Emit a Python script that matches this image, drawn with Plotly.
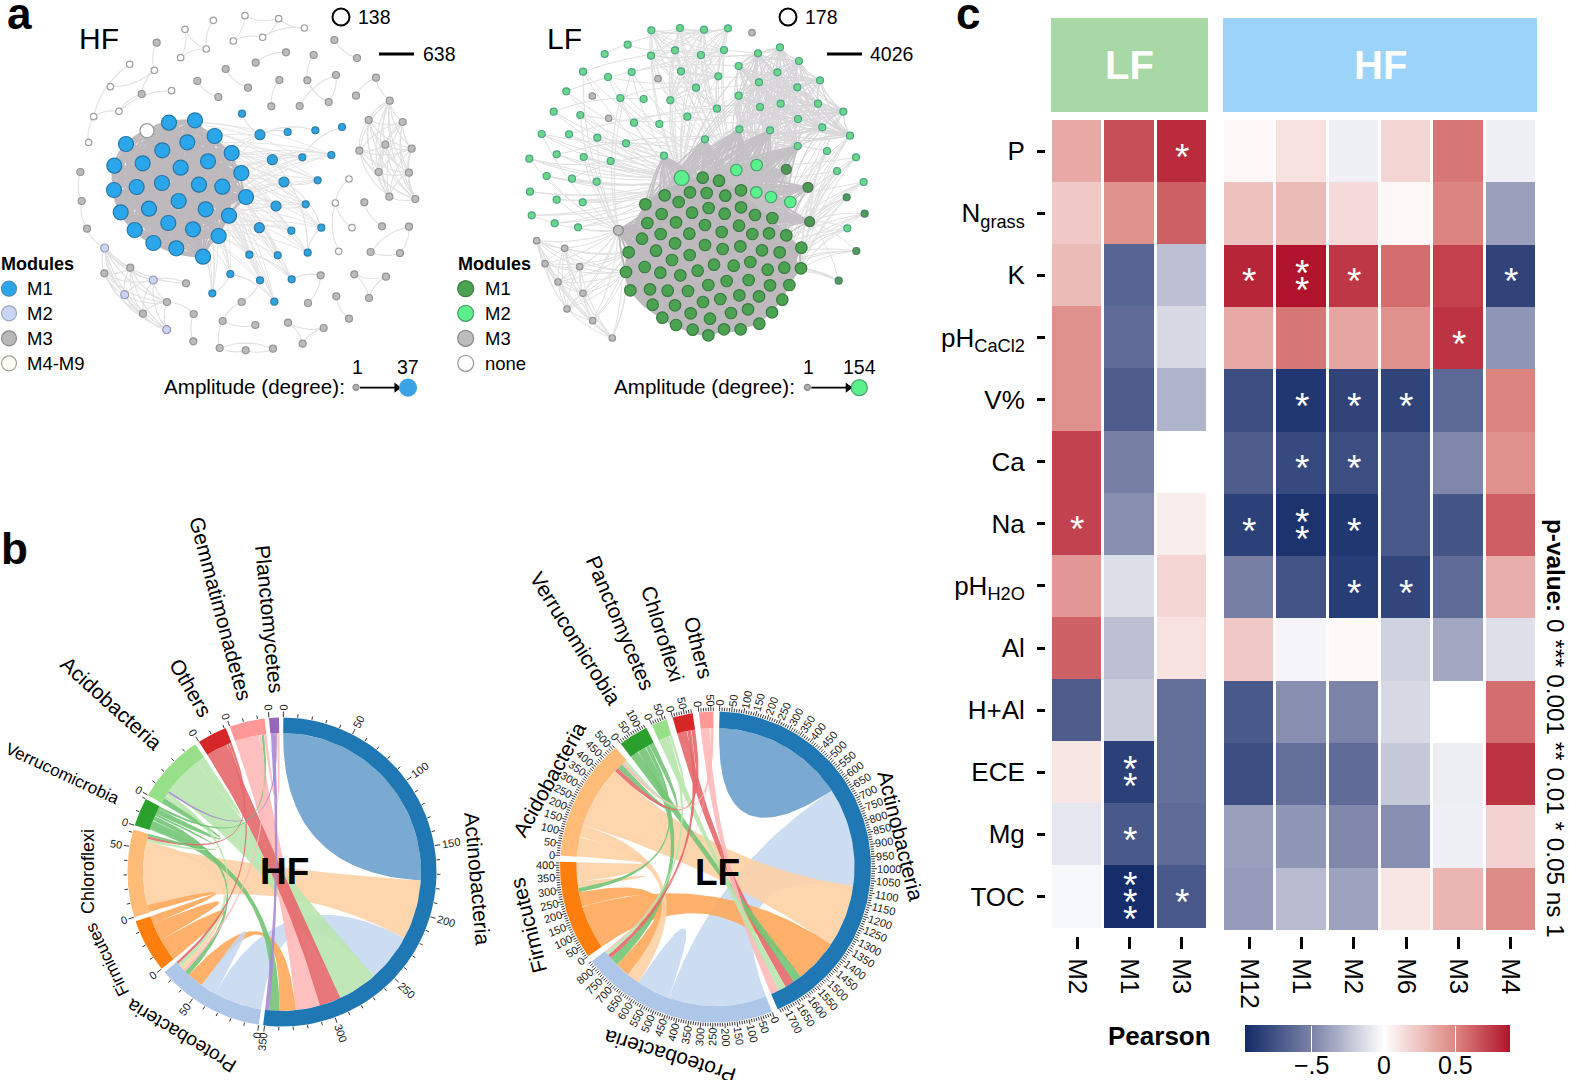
import numpy as np
import plotly.graph_objects as go

W, H = 1569, 1080
FONT = "Liberation Sans"

# ---------------- panel c data ----------------
rows = ["P", "N<sub>grass</sub>", "K", "pH<sub>CaCl2</sub>", "V%", "Ca", "Na", "pH<sub>H2O</sub>",
        "Al", "H+Al", "ECE", "Mg", "TOC"]
lf_cols = ["M2", "M1", "M3"]
hf_cols = ["M12", "M1", "M2", "M6", "M3", "M4"]
lf_r = [[.35, .68, .80], [.22, .45, .62], [.28, -.66, -.25], [.45, -.62, -.15], [.45, -.70, -.30],
        [.72, -.52, 0], [.72, -.45, .07], [.42, -.13, .17], [.62, -.25, .12], [-.70, -.20, -.60],
        [.10, -.85, -.60], [-.10, -.72, -.62], [-.03, -.95, -.72]]
hf_r = [[.03, .12, -.06, .17, .55, -.06], [.25, .28, .15, .03, .50, -.38], [.82, .88, .76, .58, .73, -.83],
        [.35, .55, .37, .45, .77, -.42], [-.78, -.90, -.83, -.83, -.63, .50], [-.70, -.80, -.78, -.72, -.48, .45],
        [-.85, -.92, -.90, -.72, -.75, .63], [-.52, -.75, -.87, -.82, -.62, .33], [.22, -.04, .02, -.18, -.35, -.12],
        [-.72, -.45, -.50, -.15, 0, .58], [-.78, -.60, -.62, -.22, -.07, .77], [-.38, -.42, -.48, -.45, -.06, .18],
        [-.40, -.27, -.37, .10, .30, .47]]
lf_stars = [[0, 0, 1], [0, 0, 0], [0, 0, 0], [0, 0, 0], [0, 0, 0], [0, 0, 0], [1, 0, 0], [0, 0, 0], [0, 0, 0],
            [0, 0, 0], [0, 2, 0], [0, 1, 0], [0, 3, 1]]
hf_stars = [[0] * 6, [0] * 6, [1, 2, 1, 0, 0, 1], [0, 0, 0, 0, 1, 0], [0, 1, 1, 1, 0, 0], [0, 1, 1, 0, 0, 0],
            [1, 2, 1, 0, 0, 0], [0, 0, 1, 1, 0, 0], [0] * 6, [0] * 6, [0] * 6, [0] * 6, [0] * 6]

# ---------------- panel a data (layout units of each network) ----------------
hf_m1_big = [(507,368),(585,361),(644,408),(378,432),(562,427),(487,451),(695,459),(343,497),(428,490),(542,503),
             (624,484),(724,519),(342,570),(410,561),(486,549),(597,554),(667,560),(738,591),(536,603),(447,626),
             (617,628),(362,637),(687,647),(505,669),(404,690),(579,688),(656,708),(460,729),(529,745),(609,770)]
hf_m1_mid = [(780,404),(817,479),(852,546),(828,618),(778,683)]
hf_m1_small = [(726,341),(863,396),(946,391),(1026,381),(907,472),(994,465),(953,541),(917,613),(874,692),(964,683),
               (748,764),(833,766),(923,758),(691,822),(780,841),(875,838),(637,880),(823,905)]
hf_m3 = [(470,128),(1003,120),(858,157),(941,165),(767,188),(1071,174),(677,207),(592,243),(744,263),(838,240),
         (922,241),(1008,225),(1128,233),(655,291),(814,319),(899,318),(986,306),(1068,287),(1169,302),(1106,360),
         (1208,366),(1078,452),(1156,434),(1235,446),(1136,516),(1227,518),(1168,590),(1246,597),(1093,607),(1146,679),
         (1227,680),(1112,756),(1200,759),(962,826),(1063,823),(1158,830),(1009,889),(1107,894),(924,909),(725,906),
         (1047,956),(971,984),(864,968),(908,1031),(766,975),(668,963),(581,942),(580,1024),(659,1044),(737,1051),
         (819,1046),(501,906),(429,941),(391,803),(313,820),(241,516),(245,603),(261,686),(425,282),(558,850)]
hf_m2 = [(314,744),(460,840),(374,884),(500,989)]
hf_other = [(640,61),(735,47),(836,56),(913,84),(555,88),(788,112),(700,123),(619,147),(542,173),(389,193),(463,211),
            (331,260),(515,272),(357,334),(281,350),(266,427),(1047,537),(1006,609),(1056,683),(1016,754)]
hf_other_big = [(441,392)]
hf_paths = [[(470,128),(463,211),(425,282),(357,334),(281,350),(266,427)], [(389,193),(281,350)], [(331,260),(463,211)],
            [(515,272),(357,334)], [(640,61),(619,147),(542,173),(555,88),(619,147)], [(735,47),(836,56),(913,84),(788,112),(700,123),(735,47)],
            [(788,112),(836,56)], [(858,157),(767,188)], [(1003,120),(1071,174)], [(677,207),(744,263)], [(592,243),(655,291)],
            [(838,240),(814,319)], [(941,165),(922,241),(986,306),(1008,225),(899,318)], [(1128,233),(1068,287)], [(1128,233),(1169,302)],
            [(1093,607),(1146,679)], [(1227,680),(1112,756),(1200,759),(1227,680)], [(1063,823),(1158,830),(1107,894),(1063,823)],
            [(962,826),(875,838)], [(1009,889),(1047,956)], [(864,968),(971,984),(908,1031),(864,968)], [(668,963),(766,975)],
            [(725,906),(668,963),(659,1044),(737,1051),(819,1046),(659,1044)], [(581,942),(580,1024)], [(581,942),(501,906)],
            [(241,516),(245,603),(261,686),(314,744),(558,850)], [(1047,537),(1006,609),(1056,683)], [(1006,609),(1016,754)], [(558,850),(460,840)],
            [(924,909),(962,826)], [(725,906),(780,841)], [(637,880),(691,822)], [(863,396),(780,404)], [(946,391),(780,404)], [(1026,381),(907,472),(817,479)],
            [(994,465),(817,479)], [(852,546),(953,541)], [(828,618),(917,613)], [(964,683),(852,546)], [(874,692),(778,683)],
            [(923,758),(817,479)], [(833,766),(778,683)], [(875,838),(748,764)], [(823,905),(691,822)], [(726,341),(780,404)], [(964,683),(923,758)]]
hf_dense_right = [(1169,302),(1106,360),(1208,366),(1078,452),(1156,434),(1235,446),(1136,516),(1227,518),(1168,590),(1246,597)]
hf_dense_left = [(314,744),(313,820),(391,803),(460,840),(374,884),(501,906),(429,941),(500,989)]

lf_m1 = [(758,533),(807,542),(644,586),(720,577),(770,579),(826,587),(873,571),(586,613),(686,606),(635,642),(726,638),
         (776,624),(824,641),(873,622),(915,645),(967,654),(592,669),(678,667),(765,675),(867,677),(815,696),(632,702),
         (718,701),(907,702),(957,700),(1009,706),(576,716),(675,730),(765,735),(818,747),(871,739),(936,751),(989,757),
         (1054,743),(536,757),(618,752),(719,765),(666,780),(792,794),(851,797),(901,786),(953,809),(1003,803),(1053,805),
         (584,801),(631,818),(691,826),(743,812),(528,816),(830,843),(896,840),(775,855),(960,856),(1018,855),(541,871),
         (600,868),(653,872),(714,873),(868,886),(927,889),(811,897),(997,899),(608,914),(675,916),(759,906),(894,928),
         (843,939),(966,937),(722,940),(637,953),(780,956),(678,975),(928,971),(728,989),(822,988),(872,988),(775,1006)]
lf_m1_mid = [(1009,508),(1074,562),(1079,665)]
lf_m1_small = [(1190,592),(1244,641),(1219,753),(1166,842)]
lf_m2_big = [(695,534),(859,510),(920,495),(919,577),(963,591),(1021,606)]
lf_m2 = [(604,91),(690,84),(762,89),(834,85),(533,134),(464,162),(603,167),(675,151),(753,165),(822,150),(924,160),(990,142),
         (1047,183),(399,215),(474,231),(545,216),(693,214),(805,229),(866,198),(982,217),(1110,241),(349,274),(738,263),(927,247),
         (1042,262),(511,294),(581,297),(661,301),(866,287),(311,335),(391,345),(801,326),(930,321),(992,311),(1104,311),(552,368),
         (712,350),(628,372),(1044,357),(1180,335),(275,402),(357,403),(442,413),(868,388),(960,391),(1117,382),(1200,407),(765,418),
         (528,430),(1043,438),(1131,453),(1218,472),(238,476),(320,463),(401,471),(482,483),(642,467),(1161,513),(290,528),(366,536),
         (440,545),(1241,546),(240,575),(320,599),(398,607),(245,646),(314,670),(384,682),(1192,685)]
lf_m3 = [(906,98),(624,236),(427,288),(476,355),(260,722),(344,745),(285,791),(389,800),(324,846),(399,880),(351,927),(428,962),(487,1014)]
lf_m3_big = [(505,691)]

# ---------------- panel b data ----------------
hf_sectors = ["Actinobacteria", "Proteobacteria", "Firmicutes", "Chloroflexi", "Verrucomicrobia",
              "Acidobacteria", "Others", "Gemmatimonadetes", "Planctomycetes"]
hf_track = ["#1f77b4", "#aec7e8", "#ff7f0e", "#ffbb78", "#2ca02c", "#98df8a", "#d62728", "#ff9896", "#9467bd"]
hf_ribbon = ["#6ba0cc", "#c6d8f0", "#ffa95c", "#fdd2a5", "#73c476", "#b9e6ae", "#e5686c", "#ffb9b8", "#a98ad0"]
hf_from = [0, 0, 0, 0, 0, 0, 0, 0, 0, 1, 4, 3, 5, 6, 2, 2, 2, 3, 3, 3, 4, 4, 5, 8, 7, 7]
hf_to = [0, 3, 1, 5, 6, 7, 1, 4, 8, 1, 1, 1, 1, 1, 3, 2, 2, 5, 6, 4, 5, 7, 5, 5, 8, 1]
hf_val = [175, 47, 38, 31, 17, 19, 13, 7.5, 3.5, 12, 4, 3, 3, 2, 6, 14, 18, 2, 2, 2, 4.5, 2, 7, 1.5, 2, 2]
hf_col = [0, 3, 1, 5, 6, 7, 2, 4, 8, 1, 4, 3, 5, 6, 2, 2, 2, 5, 6, 4, 4, 4, 5, 8, 7, 7]
hf_order = [[0, 1, 2, 3, 4, 5, 6, 7, 8], [2, 9, 6, 10, 25, 11, 12, 13], [16, 15, 14], [14, 1, 11, 17, 18, 19],
            [7, 10, 19, 20, 21], [20, 17, 12, 23, 3, 22], [4, 13, 18], [5, 25, 21, 24], [8, 23, 24]]

lf_sectors = ["Actinobacteria", "Proteobacteria", "Firmicutes", "Acidobacteria", "Verrucomicrobia",
              "Panctomycetes", "Chloroflexi", "Others"]
lf_track = ["#1f77b4", "#aec7e8", "#ff7f0e", "#ffbb78", "#2ca02c", "#98df8a", "#d62728", "#ff9896"]
lf_ribbon = ["#6ba0cc", "#c6d8f0", "#ffa95c", "#fdd2a5", "#73c476", "#b9e6ae", "#e5686c", "#ffb9b8"]
lf_from = [0, 0, 0, 0, 0, 0, 0, 0, 1, 1, 1, 1, 1, 1, 1, 2, 2, 2, 3, 3, 3, 3]
lf_to = [0, 1, 3, 2, 4, 6, 5, 7, 1, 3, 2, 4, 6, 5, 7, 3, 4, 2, 4, 6, 7, 5]
lf_val = [620, 460, 292, 206, 40, 45, 35, 40, 158, 60, 70, 40, 20, 17, 5, 90, 20, 29, 25, 20, 15, 13]
lf_col = [0, 1, 3, 2, 4, 6, 5, 7, 1, 3, 2, 4, 6, 5, 7, 3, 4, 3, 4, 6, 7, 5]
lf_order = [[0, 1, 2, 3, 4, 5, 6, 7], [1, 8, 9, 10, 11, 12, 13, 14], [3, 10, 16, 17, 15], [15, 9, 2, 19, 18, 20, 21],
            [4, 11, 16, 18], [6, 13, 21], [5, 12, 19], [7, 14, 20]]

hf_name_pos = [(478, 878, 85, 21), (181, 1036, -149, 19), (107, 960, -116, 17), (88, 872, -90, 18), (62, 773, 25, 17),
               (112, 703, 42, 21), (191, 687, 60, 21), (221, 608, 75, 21), (270, 619, 84.5, 21)]
lf_name_pos = [(901, 835, 76, 21), (670, 1057, -163, 21), (528, 926, -104, 21), (549, 779, -61, 21), (576, 638, 58, 21),
               (621, 623, 67, 21), (663, 633, 72.5, 21), (699, 647, 76, 21)]

# ---------------- helpers ----------------
def pxx(x): return x / W
def pxy(y): return 1 - y / H

annotations, shapes = [], []
def text(x, y, s, size=18, angle=0, color="#000", anchor="center", bold=False):
    annotations.append(dict(x=pxx(x), y=pxy(y), xref="paper", yref="paper", text=f"<b>{s}</b>" if bold else s,
                            showarrow=False, textangle=angle, xanchor=anchor, yanchor="middle",
                            font=dict(size=size, color=color, family=FONT)))

fig = go.Figure()

def unzip(pts):
    return [p[0] for p in pts], [p[1] for p in pts]

def edge_trace(pairs, xa, ya, color, width, bend=0.13, n=9):
    t = np.linspace(0, 1, n)
    xs, ys = [], []
    for p, q in pairs:
        p, q = np.array(p, float), np.array(q, float)
        d = q - p
        c = (p + q) / 2 + bend * np.array([-d[1], d[0]])
        cx = (1 - t) ** 2 * p[0] + 2 * t * (1 - t) * c[0] + t ** 2 * q[0]
        cy = (1 - t) ** 2 * p[1] + 2 * t * (1 - t) * c[1] + t ** 2 * q[1]
        xs += list(np.round(cx, 1)) + [None]
        ys += list(np.round(cy, 1)) + [None]
    fig.add_trace(go.Scatter(x=xs, y=ys, mode="lines", line=dict(color=color, width=width), hoverinfo="skip",
                             xaxis=xa, yaxis=ya, showlegend=False))

def node_trace(pts, xa, ya, fill, line, size, lw=1.2):
    x, y = unzip(pts)
    fig.add_trace(go.Scatter(x=x, y=y, mode="markers", marker=dict(color=fill, size=size, line=dict(color=line, width=lw)),
                             hoverinfo="skip", xaxis=xa, yaxis=ya, showlegend=False))

def arrow_trace(x0, x1, y, xa, ya):
    fig.add_trace(go.Scatter(x=[x0, x1], y=[y, y], mode="lines", line=dict(color="#000", width=1.6), hoverinfo="skip",
                             xaxis=xa, yaxis=ya, showlegend=False))
    fig.add_trace(go.Scatter(x=[x1], y=[y], mode="markers", marker=dict(symbol="triangle-right", size=9, color="#000"), hoverinfo="skip",
                             xaxis=xa, yaxis=ya, showlegend=False))

def all_pairs(a):
    return [(a[i], a[j]) for i in range(len(a)) for j in range(i + 1, len(a))]

def cross(a, b):
    return [(p, q) for p in a for q in b]

# ---------------- network HF ----------------
sparse = [(p[i], p[i + 1]) for p in hf_paths for i in range(len(p) - 1)]
edge_trace(sparse + all_pairs(hf_dense_right) + all_pairs(hf_dense_left), "x3", "y3", "#e0e0e0", 1.1, bend=0.2)
edge_trace(cross(hf_m1_mid + hf_m1_small[4:], hf_m1_big[::5]), "x3", "y3", "#e4e2e2", 0.9, bend=0.12)
edge_trace(all_pairs(hf_m1_big + hf_other_big), "x3", "y3", "#bdb9bd", 2.0, bend=0.14)
node_trace(hf_other, "x3", "y3", "#ffffff", "#a0a0a0", 6.5)
node_trace(hf_m3, "x3", "y3", "#bbbbbb", "#959595", 7)
node_trace(hf_m2, "x3", "y3", "#c9d5f2", "#9a9ab8", 8)
node_trace(hf_m1_small, "x3", "y3", "#2fa3e0", "#2f7ea8", 7)
node_trace(hf_m1_mid, "x3", "y3", "#2fa3e0", "#2f7ea8", 10)
node_trace(hf_m1_big, "x3", "y3", "#2ba6ea", "#2678a8", 15)
node_trace(hf_other_big, "x3", "y3", "#ffffff", "#9a9a9a", 14)
node_trace([(27, 866)], "x3", "y3", "#2ba6ea", "#4a90b8", 15)
node_trace([(27, 940)], "x3", "y3", "#c9d5f2", "#9aa8c0", 15)
node_trace([(27, 1015)], "x3", "y3", "#b8b8b8", "#8a8a8a", 15)
node_trace([(27, 1090)], "x3", "y3", "#fffdf5", "#a0a090", 15)
arrow_trace(1080, 1190, 1163, "x3", "y3")
node_trace([(1068, 1162)], "x3", "y3", "#b0b0b0", "#8a8a8a", 6)
node_trace([(1224, 1163)], "x3", "y3", "#3aa3e6", "#3aa3e6", 17)

# ---------------- network LF ----------------
hubs = lf_m2_big[:2] + lf_m1[:2] + [(642, 467)]
top_right = [p for p in lf_m2 if p[0] > 850 and p[1] < 450]
top_mid = [p for p in lf_m2 if 600 < p[0] <= 850 and p[1] < 330]
left_side = [p for p in lf_m2 if p[0] < 560 and p[1] > 200]
right_side = [p for p in lf_m2 + lf_m1_small if p[0] > 1120 and p[1] > 320]
upper_all = lf_m2_big + lf_m1_mid + [(642, 467), (765, 418), (868, 388), (1043, 438), (960, 391)]
gray_pts = lf_m3[4:]
edge_trace(cross(left_side + top_mid, hubs[:2]) + cross(left_side[::2], [(505, 691)]) + all_pairs(top_mid) + cross(right_side, lf_m1[40:44] + [(1079, 665)])
           + cross(gray_pts, [(505, 691), (536, 757), (528, 816)]) + all_pairs(gray_pts)
           + [(lf_m2[i], lf_m2[i + 3]) for i in range(0, 60, 2)], "x4", "y4", "#e0e0e0", 1.0, bend=0.12)
edge_trace(all_pairs(top_right) + cross(top_right[::2], upper_all[:6]), "x4", "y4", "#d8d6d8", 1.1, bend=0.14)
edge_trace(cross(upper_all, lf_m1[:28]), "x4", "y4", "#c4c1c4", 1.4, bend=0.08)
edge_trace(cross([(505, 691)], lf_m1[::2]), "x4", "y4", "#bdb9bd", 1.5, bend=0.05)
edge_trace(all_pairs(lf_m1), "x4", "y4", "#bdb9bd", 1.8, bend=0.12, n=7)
node_trace(lf_m2, "x4", "y4", "#6bd686", "#4aa58a", 7)
node_trace(lf_m3, "x4", "y4", "#bbbbbb", "#959595", 6.5)
node_trace(lf_m3_big, "x4", "y4", "#bcbcbc", "#888888", 10)
node_trace(lf_m1_small, "x4", "y4", "#4d9b58", "#50806a", 7)
node_trace(lf_m1_mid, "x4", "y4", "#4a9a52", "#55705a", 10)
node_trace(lf_m1, "x4", "y4", "#4ba352", "#3a7a42", 11.5)
node_trace(lf_m2_big[1:], "x4", "y4", "#5cf08c", "#4aa070", 11.5)
node_trace(lf_m2_big[:1], "x4", "y4", "#5cf08c", "#4aa070", 15)
node_trace([(47, 866)], "x4", "y4", "#4ba352", "#3a7a42", 16)
node_trace([(47, 940)], "x4", "y4", "#5cf08c", "#4aa070", 16)
node_trace([(47, 1015)], "x4", "y4", "#bcbcbc", "#888888", 16)
node_trace([(47, 1090)], "x4", "y4", "#ffffff", "#9a9a9a", 16)
arrow_trace(1084, 1194, 1163, "x4", "y4")
node_trace([(1072, 1162)], "x4", "y4", "#b0b0b0", "#8a8a8a", 6)
node_trace([(1228, 1163)], "x4", "y4", "#5cf08c", "#4aa070", 16)

# network texts
text(-1, 264, "Modules", 18, anchor="left", bold=True)
for i, s in enumerate(["M1", "M2", "M3", "M4-M9"]):
    text(25, 288.5 + i * 24.9, s, 18.5, anchor="left")
text(456, 264, "Modules", 18, anchor="left", bold=True)
for i, s in enumerate(["M1", "M2", "M3", "none"]):
    text(483, 288.5 + i * 24.9, s, 18.5, anchor="left")
text(77, 38, "HF", 30, anchor="left")
text(545, 38, "LF", 30, anchor="left")
text(356, 17, "138", 19.5, anchor="left")
text(421, 54.5, "638", 19.5, anchor="left")
text(803, 17, "178", 19.5, anchor="left")
text(868, 54.5, "4026", 19.5, anchor="left")
text(347, 386, "Amplitude (degree):", 20.6, anchor="right")
text(797, 386, "Amplitude (degree):", 20.6, anchor="right")
text(357, 367, "1", 19.5)
text(408, 367, "37", 19.5)
text(808, 367, "1", 19.5)
text(859, 367, "154", 19.5)
for cx, cy in [(341, 17), (788, 17)]:
    shapes.append(dict(type="circle", xref="paper", yref="paper", x0=pxx(cx - 8.5), x1=pxx(cx + 8.5), y0=pxy(cy + 8.5), y1=pxy(cy - 8.5),
                       line=dict(color="#000", width=2), fillcolor="#fff"))
for x0, x1 in [(379, 414), (827, 862)]:
    shapes.append(dict(type="line", xref="paper", yref="paper", x0=pxx(x0), x1=pxx(x1), y0=pxy(54), y1=pxy(54), line=dict(color="#000", width=3)))

# ---------------- chord diagrams ----------------
def polar(r, th):
    th = np.radians(th)
    return r * np.sin(th), r * np.cos(th)

def bez(p, q, n=50):
    t = np.linspace(0, 1, n)
    return (1 - t) ** 2 * p[0] + t ** 2 * q[0], (1 - t) ** 2 * p[1] + t ** 2 * q[1]

def chord(sectors, track, ribbon, lfrom, lto, lval, lcol, order, xa, ya, start, gap, Router, Rin, center, label_r, name_pos):
    cx, cy = center
    n = len(lval)
    totals = [sum(lval[k] * ((lfrom[k] == s) or (lto[k] == s)) for k in range(n)) for s in range(len(sectors))]
    unit = (360 - gap * len(sectors)) / sum(totals)
    a = start
    starts = []
    for s in range(len(sectors)):
        starts.append(a)
        a += totals[s] * unit + gap
    ranges = {}
    for s, ord_ in enumerate(order):
        cur = starts[s]
        for k in ord_:
            w = lval[k] * unit
            ranges.setdefault(k, []).append((cur, cur + w))
            cur += w
    # ribbons, widest first
    for k in sorted(range(n), key=lambda i: -lval[i]):
        rs = ranges[k]
        a0, a1 = rs[0]
        ax_, ay_ = polar(Rin, np.linspace(a0, a1, 40))
        if len(rs) > 1:
            b0, b1 = rs[1]
            bx_, by_ = polar(Rin, np.linspace(b0, b1, 40))
            c1 = bez((ax_[-1], ay_[-1]), (bx_[0], by_[0]))
            c2 = bez((bx_[-1], by_[-1]), (ax_[0], ay_[0]))
            xs = np.r_[ax_, c1[0], bx_, c2[0]]
            ys = np.r_[ay_, c1[1], by_, c2[1]]
        else:
            c1 = bez((ax_[-1], ay_[-1]), (ax_[0], ay_[0]))
            xs = np.r_[ax_, c1[0]]
            ys = np.r_[ay_, c1[1]]
        fig.add_trace(go.Scatter(x=np.round(xs, 2), y=np.round(ys, 2), mode="lines", fill="toself", fillcolor=ribbon[lcol[k]],
                                 opacity=0.9, line=dict(width=0), hoverinfo="skip", xaxis=xa, yaxis=ya, showlegend=False))
    # tracks and ticks
    tx, ty = [], []
    for s in range(len(sectors)):
        a0, a1 = starts[s], starts[s] + totals[s] * unit
        th = np.linspace(a0, a1, 80)
        ox, oy = polar(Router, th)
        ix, iy = polar(Rin, th[::-1])
        fig.add_trace(go.Scatter(x=np.r_[ox, ix], y=np.r_[oy, iy], mode="lines", fill="toself", fillcolor=track[s],
                                 line=dict(width=0), hoverinfo="skip", xaxis=xa, yaxis=ya, showlegend=False))
        v = 0
        while v <= totals[s] + 0.01:
            t = a0 + v * unit
            p1 = polar(Router + 0.5, t)
            major = v % 50 == 0
            p2 = polar(Router + (6 if major else 4), t)
            tx += [p1[0], p2[0], None]
            ty += [p1[1], p2[1], None]
            if major:
                lab = str(int(v))
                rr = label_r + 3.1 * len(lab)
                lx, ly = polar(rr, t)
                ang = t - 90 if t < 180 else t + 90
                if ang > 180:
                    ang -= 360
                text(cx + lx, cy - ly, lab, 11, angle=ang, color="#222")
            v += 10
    fig.add_trace(go.Scatter(x=tx, y=ty, mode="lines", line=dict(color="#222", width=0.9), hoverinfo="skip", xaxis=xa, yaxis=ya, showlegend=False))
    for s, (nx, ny, ang, size) in enumerate(name_pos):
        text(nx, ny, sectors[s], size, angle=ang)

chord(hf_sectors, hf_track, hf_ribbon, hf_from, hf_to, hf_val, hf_col, hf_order, "x5", "y5", 0.5, 1.62, 154.5, 139,
      (282, 872), 162, hf_name_pos)
chord(lf_sectors, lf_track, lf_ribbon, lf_from, lf_to, lf_val, lf_col, lf_order, "x6", "y6", 1.5, 2.3, 155.5, 139,
      (715.5, 867), 161, lf_name_pos)
text(284, 871, "HF", 37, bold=True)
text(717, 872, "LF", 37, bold=True)

# ---------------- heatmaps ----------------
colorscale = [[0, "#122b68"], [0.262, "#7f86aa"], [0.524, "#ffffff"], [0.796, "#dc8580"], [1, "#b0142c"]]
ZMIN, ZMAX = -0.965, 0.875
cbar_ticks = [-0.5, 0, 0.5]
cbar_labels = ["\u2212.5", "0", "0.5"]
fig.add_trace(go.Heatmap(z=lf_r, x=lf_cols, y=rows, xgap=3, ygap=0, zmin=ZMIN, zmax=ZMAX, colorscale=colorscale, showscale=False,
                         hoverinfo="skip", xaxis="x", yaxis="y"))
fig.add_trace(go.Heatmap(z=hf_r, x=hf_cols, y=rows, xgap=3, ygap=0, zmin=ZMIN, zmax=ZMAX, colorscale=colorscale, hoverinfo="skip",
                         xaxis="x2", yaxis="y2",
                         colorbar=dict(orientation="h", x=1245 / W, xanchor="left", y=pxy(1024.5), yanchor="top", len=265, lenmode="pixels",
                                       thickness=26.5, xpad=0, ypad=0, outlinewidth=0, tickvals=cbar_ticks, showticklabels=False,
                                       ticks="inside", tickcolor="#fff", ticklen=26, tickwidth=1)))
for v, s in zip(cbar_ticks, cbar_labels):
    text(1245 + (v - ZMIN) / (ZMAX - ZMIN) * 265, 1065, s, 25)

for stars, cols, xa, ya in [(lf_stars, lf_cols, "x", "y"), (hf_stars, hf_cols, "x2", "y2")]:
    for i, row in enumerate(stars):
        for j, c in enumerate(row):
            for k in range(c):
                annotations.append(dict(x=j, y=i, xref=xa, yref=ya, text="*", showarrow=False, yshift=-6 - (k - (c - 1) / 2) * 17,
                                        font=dict(size=37, color="#fff", family=FONT)))

for (x0, x1, c, s) in [(1051, 1208, "#a8d8a5", "LF"), (1223, 1537, "#9cd3f8", "HF")]:
    shapes.append(dict(type="rect", xref="paper", yref="paper", x0=pxx(x0), x1=pxx(x1), y0=pxy(112), y1=pxy(18), fillcolor=c, line=dict(width=0)))
    text((x0 + x1) / 2, 65, s, 40, color="#fff", bold=True)

text(5, 14, "a", 44, anchor="left", bold=True)
text(-1, 548, "b", 44, anchor="left", bold=True)
text(954, 14, "c", 44, anchor="left", bold=True)
text(1159, 1036, "Pearson", 26, bold=True)
text(1556, 728, "<b>p-value:</b> 0 *** 0.001 ** 0.01 * 0.05 ns 1", 24.3, angle=90)

hidden = dict(visible=False, showgrid=False, zeroline=False, fixedrange=True)
def dom_x(a, b): return [a / W, b / W]
def dom_y(a, b): return [1 - b / H, 1 - a / H]

tick_common = dict(ticks="outside", tickcolor="#000", showgrid=False, zeroline=False, showline=False,
                   tickfont=dict(size=26, family=FONT, color="#000"))
fig.update_layout(
    width=W, height=H, margin=dict(l=0, r=0, t=0, b=0, autoexpand=False), paper_bgcolor="#fff", plot_bgcolor="rgba(0,0,0,0)",
    font=dict(family=FONT), showlegend=False, annotations=annotations, shapes=shapes,
    xaxis=dict(domain=dom_x(1051, 1208), anchor="free", position=pxy(936), ticklen=12, tickwidth=3, tickangle=90, ticklabelstandoff=4, **tick_common),
    yaxis=dict(domain=dom_y(120, 930), anchor="free", position=1045 / W, ticklen=8, tickwidth=3, autorange="reversed", ticklabelstandoff=7, **tick_common),
    xaxis2=dict(domain=dom_x(1223, 1537), anchor="free", position=pxy(936), ticklen=12, tickwidth=3, tickangle=90, ticklabelstandoff=4, **tick_common),
    yaxis2=dict(domain=dom_y(120, 930), anchor="x2", autorange="reversed", visible=False, showgrid=False, zeroline=False),
    xaxis3=dict(domain=dom_x(0, 480), range=[0, 1440], anchor="y3", **hidden),
    yaxis3=dict(domain=dom_y(0, 410), range=[1230, 0], anchor="x3", **hidden),
    xaxis4=dict(domain=dom_x(450, 930), range=[0, 1440], anchor="y4", **hidden),
    yaxis4=dict(domain=dom_y(0, 410), range=[1230, 0], anchor="x4", **hidden),
    xaxis5=dict(domain=dom_x(282 - 200, 282 + 200), range=[-200, 200], anchor="y5", **hidden),
    yaxis5=dict(domain=dom_y(872 - 200, 872 + 200), range=[-200, 200], anchor="x5", **hidden),
    xaxis6=dict(domain=dom_x(715.5 - 200, 715.5 + 200), range=[-200, 200], anchor="y6", **hidden),
    yaxis6=dict(domain=dom_y(867 - 200, 867 + 200), range=[-200, 200], anchor="x6", **hidden),
)
fig.write_html("out.html", config=dict(displayModeBar=False),
               post_script="document.body.style.margin='0';document.documentElement.style.overflow='hidden';")
